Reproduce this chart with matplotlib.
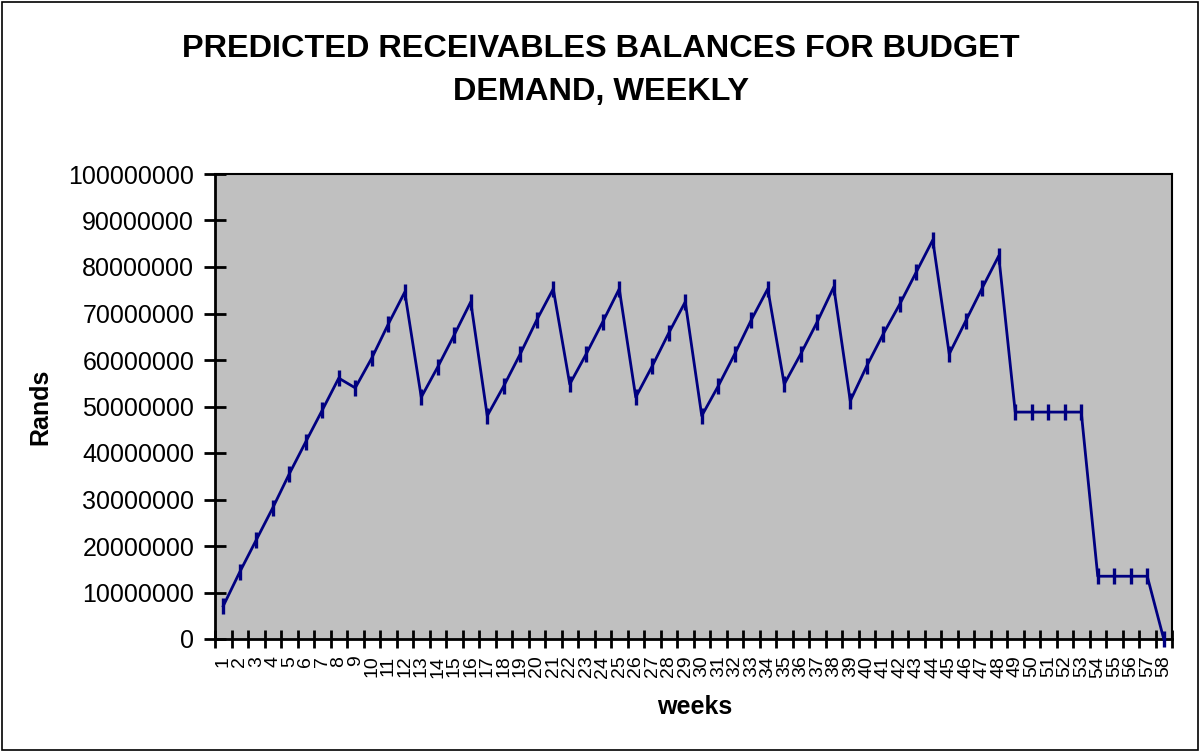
import numpy as np
import matplotlib.pyplot as plt
from matplotlib.patches import Rectangle

plt.rcParams['font.family'] = ['Liberation Sans', 'DejaVu Sans']

# weekly receivables balance, in millions of rands
weeks = list(range(1, 59))
balance_m = [7.1, 14.4, 21.3, 28.2, 35.5, 42.4, 49.2, 56.1, 54.0, 60.4,
             67.7, 74.6, 52.0, 58.5, 65.4, 72.5, 48.0, 54.4, 61.3, 68.6,
             75.3, 54.8, 61.3, 68.2, 75.3, 52.0, 58.7, 65.8, 72.5, 48.0,
             54.4, 61.3, 68.6, 75.3, 54.8, 61.3, 68.2, 75.7, 51.2, 58.7,
             65.6, 72.0, 78.9, 85.8, 61.3, 68.4, 75.5, 82.4, 48.8, 48.8,
             48.8, 48.8, 48.8, 13.5, 13.5, 13.5, 13.5, 0.0]
balance = np.array(balance_m) * 1e6
y_ticks = list(range(0, 100000001, 10000000))

fig = plt.figure(figsize=(12.02, 7.52), dpi=100)
fig.patch.set_facecolor('white')
fig.patches.append(Rectangle((0.002, 0.003), 0.995, 0.994, transform=fig.transFigure,
                             fill=False, edgecolor='black', linewidth=1.2))

ax = fig.add_axes([215 / 1202, 1 - 639 / 752, (1172 - 215) / 1202, (639 - 174) / 752])
ax.set_facecolor('#C0C0C0')

ax.plot(weeks, balance, color='#000080', linewidth=2, marker='|',
        markersize=11, markeredgewidth=2.4, clip_on=False, zorder=3)

ax.set_xlim(0.5, 58.5)
ax.set_ylim(0, 1e8)

# category boundaries get the tick marks, labels sit in the middle
ax.set_xticks(np.arange(0.5, 59, 1))
ax.set_xticklabels([])
ax.set_xticks(weeks, minor=True)
ax.set_xticklabels([str(w) for w in weeks], minor=True, rotation=90,
                   fontsize=14, va='top', ha='center')
ax.tick_params(axis='x', which='major', direction='inout', length=13, width=2)
ax.tick_params(axis='x', which='minor', length=0, pad=12)

ax.set_yticks(y_ticks)
ax.set_yticklabels([str(v) for v in y_ticks], fontsize=18)
ax.tick_params(axis='y', direction='inout', length=16, width=2, pad=7)

for side in ['left', 'bottom']:
    ax.spines[side].set_linewidth(2)
for side in ['top', 'right']:
    ax.spines[side].set_linewidth(1.5)

fig.text(0.5, 1 - 57 / 752, 'PREDICTED RECEIVABLES BALANCES FOR BUDGET',
         ha='center', va='baseline', fontsize=23.4, fontweight='bold')
fig.text(0.5, 1 - 100 / 752, 'DEMAND, WEEKLY',
         ha='center', va='baseline', fontsize=23.4, fontweight='bold')
fig.text(40 / 1202, 1 - 407 / 752, 'Rands', rotation=90, ha='center', va='center',
         fontsize=18, fontweight='bold')
fig.text(695 / 1202, 1 - 707 / 752, 'weeks', ha='center', va='center',
         fontsize=18, fontweight='bold')

fig.savefig('out.png', dpi=100)
